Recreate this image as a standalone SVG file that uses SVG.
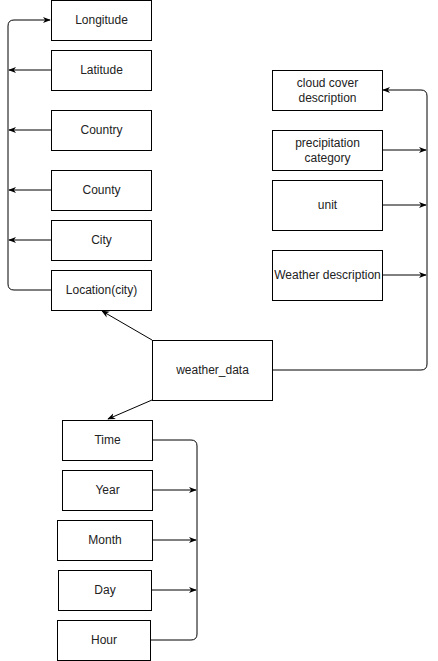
<svg xmlns="http://www.w3.org/2000/svg" width="438" height="661" viewBox="0 0 438 661">
<defs>
<style>
.box{fill:#fff;stroke:#000;stroke-width:1}
.t{font-family:"Liberation Sans",Arial,sans-serif;font-size:12px;fill:#222;text-anchor:middle;dominant-baseline:central}
.c{fill:none;stroke:#000;stroke-width:1}
</style>
<marker id="a" viewBox="0 0 10 10" refX="9" refY="5" markerWidth="8" markerHeight="8" orient="auto" markerUnits="userSpaceOnUse">
<path d="M0,1 L10,5 L0,9 L3,5 Z" fill="#000"/>
</marker>
</defs>
<rect width="438" height="661" fill="#fff"/>
<g id="connectors">
<path class="c" d="M51,290 H14 Q8,290 8,284 V26 Q8,20 14,20 H50" marker-end="url(#a)"/>
<path class="c" d="M51,70 H9" marker-end="url(#a)"/>
<path class="c" d="M51,130 H9" marker-end="url(#a)"/>
<path class="c" d="M51,190 H9" marker-end="url(#a)"/>
<path class="c" d="M51,240 H9" marker-end="url(#a)"/>
<path class="c" d="M152,340 L102,311" marker-end="url(#a)"/>
<path class="c" d="M152,400 L108,419" marker-end="url(#a)"/>
<path class="c" d="M272,370 H421 Q427,370 427,364 V96 Q427,90 421,90 H383" marker-end="url(#a)"/>
<path class="c" d="M382,150 H426" marker-end="url(#a)"/>
<path class="c" d="M382,205 H426" marker-end="url(#a)"/>
<path class="c" d="M382,275 H426" marker-end="url(#a)"/>
<path class="c" d="M152,440 H191 Q197,440 197,446 V634 Q197,640 191,640 H150"/>
<path class="c" d="M152,490 H196" marker-end="url(#a)"/>
<path class="c" d="M152,540 H196" marker-end="url(#a)"/>
<path class="c" d="M151,590 H196" marker-end="url(#a)"/>
</g>
<g id="longitude"><rect class="box" x="51.5" y="0.5" width="100" height="40"/><text class="t" x="101.5" y="20">Longitude</text></g>
<g id="latitude"><rect class="box" x="51.5" y="50.5" width="100" height="40"/><text class="t" x="101.5" y="70">Latitude</text></g>
<g id="country"><rect class="box" x="51.5" y="110.5" width="100" height="40"/><text class="t" x="101.5" y="130">Country</text></g>
<g id="county"><rect class="box" x="51.5" y="170.5" width="100" height="40"/><text class="t" x="101.5" y="190">County</text></g>
<g id="city"><rect class="box" x="51.5" y="220.5" width="100" height="40"/><text class="t" x="101.5" y="240">City</text></g>
<g id="location"><rect class="box" x="51.5" y="270.5" width="100" height="40"/><text class="t" x="101.5" y="290">Location(city)</text></g>
<g id="weather_data"><rect class="box" x="152.5" y="340.5" width="120" height="60"/><text class="t" x="212.5" y="370">weather_data</text></g>
<g id="cloud"><rect class="box" x="272.5" y="70.5" width="110" height="40"/><text class="t" x="327.5" y="83">cloud cover</text><text class="t" x="327.5" y="98">description</text></g>
<g id="precip"><rect class="box" x="272.5" y="130.5" width="110" height="40"/><text class="t" x="327.5" y="143">precipitation</text><text class="t" x="327.5" y="158">category</text></g>
<g id="unit"><rect class="box" x="272.5" y="180.5" width="110" height="50"/><text class="t" x="327.5" y="205">unit</text></g>
<g id="weather_desc"><rect class="box" x="272.5" y="250.5" width="110" height="50"/><text class="t" x="327.5" y="275">Weather description</text></g>
<g id="time"><rect class="box" x="62.5" y="420.5" width="90" height="40"/><text class="t" x="107.5" y="440">Time</text></g>
<g id="year"><rect class="box" x="62.5" y="470.5" width="90" height="40"/><text class="t" x="107.5" y="490">Year</text></g>
<g id="month"><rect class="box" x="57.5" y="520.5" width="95" height="40"/><text class="t" x="105" y="540">Month</text></g>
<g id="day"><rect class="box" x="58.5" y="570.5" width="93" height="40"/><text class="t" x="105" y="590">Day</text></g>
<g id="hour"><rect class="box" x="57.5" y="620.5" width="93" height="40"/><text class="t" x="104" y="640">Hour</text></g>
</svg>
